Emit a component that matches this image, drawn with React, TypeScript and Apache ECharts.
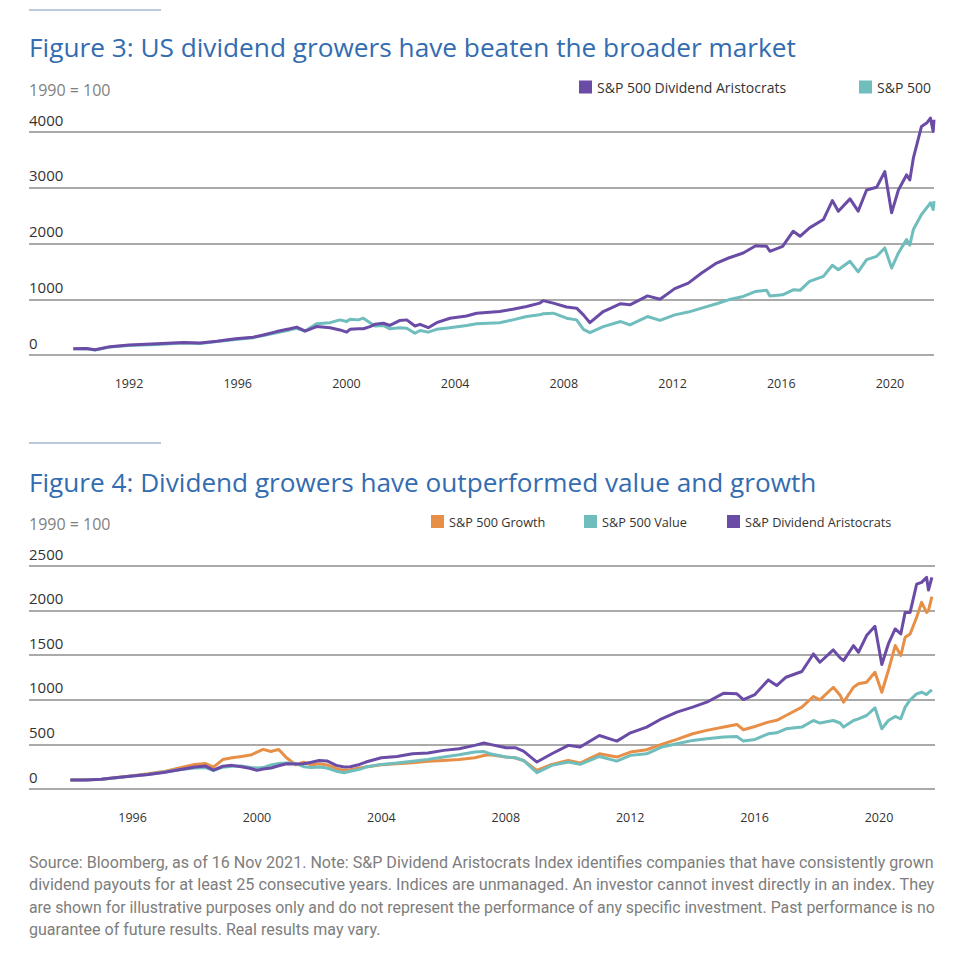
import React, { useEffect, useRef } from "react";
import * as echarts from "echarts";

// ---------- Figure 3 data (1990 = 100) ----------
const years1 = [
  1989.95, 1990.44, 1990.75, 1991.3, 1992.0, 1993.02, 1994.0, 1994.61, 1995.23, 1995.92,
  1996.57, 1996.94, 1997.43, 1997.92, 1998.17, 1998.48, 1998.9, 1999.4, 1999.76, 2000.01,
  2000.13, 2000.44, 2000.62, 2000.87, 2001.05, 2001.36, 2001.6, 2001.97, 2002.22, 2002.52,
  2002.71, 2003.01, 2003.32, 2003.81, 2004.42, 2004.79, 2005.63, 2006.12, 2006.63, 2007.11,
  2007.24, 2007.61, 2008.1, 2008.47, 2008.72, 2008.96, 2009.45, 2010.09, 2010.43, 2011.08,
  2011.54, 2012.08, 2012.58, 2013.07, 2013.62, 2014.06, 2014.6, 2015.06, 2015.46, 2015.58,
  2016.05, 2016.44, 2016.69, 2017.04, 2017.55, 2017.88, 2018.1, 2018.53, 2018.83, 2019.14,
  2019.51, 2019.81, 2020.06, 2020.31, 2020.61, 2020.73, 2020.86, 2021.16, 2021.35, 2021.49,
  2021.59, 2021.62,
];
const aristocrats1 = [
  110, 115, 95, 150, 180, 200, 225, 215, 245, 290,
  320, 360, 420, 470, 500, 430, 510, 490, 450, 410,
  460, 470, 470, 510, 550, 570, 530, 620, 630, 520,
  550, 490, 580, 660, 700, 750, 780, 820, 870, 930,
  975, 930, 860, 840, 720, 580, 780, 920, 900, 1060,
  1000, 1190, 1290, 1470, 1650, 1740, 1830, 1960, 1950, 1860,
  1950, 2220, 2130, 2280, 2430, 2770, 2580, 2800, 2580, 2960,
  3010, 3290, 2550, 2960, 3230, 3140, 3530, 4100, 4160, 4250,
  4010, 4220,
];
const sp500_1 = [
  110, 110, 90, 145, 170, 190, 215, 205, 240, 280,
  310, 350, 400, 450, 480, 430, 560, 580, 630, 600,
  640, 630, 660, 580, 520, 530, 470, 490, 480, 390,
  440, 410, 460, 490, 530, 560, 580, 630, 690, 720,
  740, 750, 660, 630, 460, 400, 510, 600, 540, 690,
  620, 720, 770, 840, 920, 990, 1050, 1140, 1160, 1060,
  1080, 1170, 1160, 1320, 1410, 1610, 1530, 1680, 1490, 1710,
  1770, 1920, 1560, 1830, 2070, 1970, 2250, 2520, 2640, 2730,
  2610, 2760,
];
const xTicks1 = [1992, 1996, 2000, 2004, 2008, 2012, 2016, 2020];

// ---------- Figure 4 data (1990 = 100) ----------
const years2 = [
  1994.0, 1994.5, 1995.0, 1995.5, 1996.0, 1996.5, 1997.0, 1997.5, 1998.0, 1998.35,
  1998.6, 1998.9, 1999.2, 1999.5, 1999.8, 2000.0, 2000.2, 2000.45, 2000.7, 2000.95,
  2001.25, 2001.5, 2001.75, 2002.0, 2002.25, 2002.55, 2002.8, 2003.0, 2003.3, 2003.5,
  2004.0, 2004.5, 2005.0, 2005.5, 2006.0, 2006.5, 2007.0, 2007.3, 2007.49, 2008.01,
  2008.3, 2008.57, 2009.0, 2009.48, 2010.01, 2010.39, 2011.01, 2011.57, 2012.01, 2012.53,
  2013.01, 2013.5, 2014.01, 2014.46, 2015.01, 2015.43, 2015.64, 2016.01, 2016.44, 2016.71,
  2017.01, 2017.52, 2017.89, 2018.1, 2018.53, 2018.75, 2018.86, 2019.18, 2019.34, 2019.6,
  2019.87, 2020.09, 2020.3, 2020.52, 2020.7, 2020.84, 2021.0, 2021.21, 2021.37, 2021.53,
  2021.59, 2021.7,
];
const growth2 = [
  100, 105, 110, 130, 150, 170, 195, 235, 275, 285,
  245, 330, 350, 365, 380, 414, 444, 420, 444, 350,
  270, 300, 270, 283, 270, 230, 209, 216, 235, 246,
  272, 283, 295, 310, 320, 332, 350, 375, 384, 358,
  350, 320, 209, 276, 320, 291, 395, 358, 414, 440,
  500, 556, 619, 657, 694, 724, 664, 701, 750, 770,
  824, 918, 1037, 1000, 1141, 1050, 974, 1141, 1179, 1197,
  1309, 1085, 1328, 1608, 1496, 1701, 1738, 1925, 2093, 1980,
  2000, 2156,
];
const value2 = [
  100, 100, 108, 125, 145, 162, 190, 215, 235, 240,
  205, 245, 255, 257, 240, 235, 240, 270, 285, 292,
  285, 250, 240, 246, 235, 200, 183, 198, 220, 246,
  276, 291, 310, 332, 358, 384, 414, 420, 395, 358,
  350, 320, 183, 265, 302, 276, 365, 313, 377, 395,
  470, 507, 545, 563, 582, 589, 537, 556, 619, 630,
  675, 694, 768, 739, 768, 740, 694, 768, 787, 824,
  910, 675, 768, 813, 787, 918, 1000, 1067, 1085, 1059,
  1080, 1112,
];
const aristocrats2 = [
  100, 102, 110, 128, 145, 162, 185, 215, 246, 257,
  212, 255, 265, 250, 230, 209, 225, 235, 260, 283,
  280, 283, 300, 320, 315, 265, 246, 250, 275, 302,
  350, 365, 395, 403, 433, 451, 489, 515, 500, 463,
  463, 425, 302, 395, 489, 470, 600, 537, 630, 694,
  787, 862, 918, 973, 1074, 1067, 1003, 1059, 1223, 1160,
  1253, 1317, 1514, 1421, 1559, 1470, 1440, 1607, 1533, 1720,
  1824, 1395, 1626, 1794, 1738, 1980, 1980, 2297, 2316, 2372,
  2230, 2372,
];
const xTicks2 = [1996, 2000, 2004, 2008, 2012, 2016, 2020];

// ---------- texts ----------
const title1 = "Figure 3: US dividend growers have beaten the broader market";
const title2 = "Figure 4: Dividend growers have outperformed value and growth";
const baseNote = "1990 = 100";
const legend1 = ["S&P 500 Dividend Aristocrats", "S&P 500"];
const legend2 = ["S&P 500 Growth", "S&P 500 Value", "S&P Dividend Aristocrats"];
const sourceLines = [
  "Source: Bloomberg, as of 16 Nov 2021. Note: S&P Dividend Aristocrats Index identifies companies that have consistently grown",
  "dividend payouts for at least 25 consecutive years. Indices are unmanaged. An investor cannot invest directly in an index. They",
  "are shown for illustrative purposes only and do not represent the performance of any specific investment. Past performance is no",
  "guarantee of future results. Real results may vary.",
];

const PURPLE = "#6a4ba6";
const TEAL = "#6fbdbc";
const ORANGE = "#e78f47";
const BLUE = "#336cb0";
const GRID = "#8e8e8e";
const FONT = "Open Sans";

function pairs(xs: number[], ys: number[]) {
  return xs.map((x, i) => [x, ys[i]]);
}

function measure(text: string, font: string): number {
  const c = document.createElement("canvas").getContext("2d");
  if (!c) return text.length * 7;
  c.font = font;
  return c.measureText(text).width;
}

export default function App() {
  const ref = useRef<HTMLDivElement>(null);

  useEffect(() => {
    if (!ref.current) return;
    const chart = echarts.init(ref.current, undefined, { renderer: "svg" });

    const t1w = measure(title1, `25px "${FONT}"`);
    const t2w = measure(title2, `25px "${FONT}"`);
    const t1fs = (25 * 767) / t1w;
    const t2fs = (25 * 788) / t2w;
    const srcFont = `17px Roboto`;
    const srcScales = sourceLines.map((l) => 906 / measure(l, srcFont));
    const avgScale = (srcScales[0] + srcScales[1] + srcScales[2]) / 3;

    const legendBase = (fontSize: number) => ({
      icon: "rect",
      itemWidth: 13,
      itemHeight: 13,
      itemGap: 0,
      padding: 0,
      selectedMode: false,
      textStyle: { fontFamily: FONT, fontSize, color: "#333" },
    });

    const yAxisBase = {
      type: "value",
      min: 0,
      axisLine: { show: false },
      axisTick: { show: false },
      splitLine: { lineStyle: { color: GRID, width: 1.5 } },
      axisLabel: {
        inside: true,
        margin: 0,
        align: "left",
        verticalAlign: "bottom",
        padding: [0, 0, 5, 0],
        fontFamily: FONT,
        fontSize: 15,
        color: "#333",
        formatter: (v: number) => String(v),
      },
    };

    const xAxisBase = {
      type: "value",
      axisLine: { show: false },
      axisTick: { show: false },
      splitLine: { show: false },
    };

    const lineSeries = (name: string, color: string, data: number[][], axis: number, z: number) => ({
      type: "line",
      name,
      xAxisIndex: axis,
      yAxisIndex: axis,
      data,
      showSymbol: false,
      symbol: "none",
      clip: false,
      z,
      lineStyle: { color, width: 3, join: "round" },
      itemStyle: { color },
    });

    const option: any = {
      animation: false,
      backgroundColor: "#ffffff",
      grid: [
        { left: 29, right: 37, top: 132, bottom: 605 },
        { left: 29, right: 36, top: 566, bottom: 171 },
      ],
      xAxis: [
        {
          ...xAxisBase,
          gridIndex: 0,
          min: 1988.32,
          max: 2021.62,
          axisLabel: {
            customValues: xTicks1,
            margin: 22,
            fontFamily: FONT,
            fontSize: 12.5,
            color: "#333",
            formatter: (v: number) => String(Math.round(v)),
          },
        },
        {
          ...xAxisBase,
          gridIndex: 1,
          min: 1992.67,
          max: 2021.8,
          axisLabel: {
            customValues: xTicks2,
            margin: 22,
            fontFamily: FONT,
            fontSize: 12.5,
            color: "#333",
            formatter: (v: number) => String(Math.round(v)),
          },
        },
      ],
      yAxis: [
        { ...yAxisBase, gridIndex: 0, max: 4000, interval: 1000 },
        { ...yAxisBase, gridIndex: 1, max: 2500, interval: 500 },
      ],
      legend: [
        { ...legendBase(14), data: [legend1[0]], left: 579, top: 80 },
        { ...legendBase(14), data: [legend1[1]], left: 859, top: 80 },
        { ...legendBase(12.7), data: [legend2[0]], left: 431, top: 515 },
        { ...legendBase(12.7), data: [legend2[1]], left: 584, top: 515 },
        { ...legendBase(12.7), data: [legend2[2]], left: 727, top: 515 },
      ],
      series: [
        lineSeries(legend1[1], TEAL, pairs(years1, sp500_1), 0, 2),
        lineSeries(legend1[0], PURPLE, pairs(years1, aristocrats1), 0, 3),
        lineSeries(legend2[0], ORANGE, pairs(years2, growth2), 1, 2),
        lineSeries(legend2[1], TEAL, pairs(years2, value2), 1, 3),
        lineSeries(legend2[2], PURPLE, pairs(years2, aristocrats2), 1, 4),
      ],
      graphic: [
        { type: "line", shape: { x1: 29, y1: 10, x2: 161, y2: 10 }, style: { stroke: "#a3b8d0", lineWidth: 1.5 } },
        {
          type: "text",
          x: 29,
          y: 47,
          style: { text: title1, fontFamily: FONT, fontSize: t1fs, fill: BLUE, align: "left", verticalAlign: "middle" },
        },
        {
          type: "text",
          x: 29,
          y: 90,
          style: { text: baseNote, fontFamily: FONT, fontSize: 16, fill: "#7f7f7f", align: "left", verticalAlign: "middle" },
        },
        { type: "line", shape: { x1: 29, y1: 443, x2: 161, y2: 443 }, style: { stroke: "#a3b8d0", lineWidth: 1.5 } },
        {
          type: "text",
          x: 29,
          y: 481.5,
          style: { text: title2, fontFamily: FONT, fontSize: t2fs, fill: BLUE, align: "left", verticalAlign: "middle" },
        },
        {
          type: "text",
          x: 29,
          y: 524,
          style: { text: baseNote, fontFamily: FONT, fontSize: 16, fill: "#7f7f7f", align: "left", verticalAlign: "middle" },
        },
        ...sourceLines.map((line, i) => ({
          type: "text",
          x: 29,
          y: 862 + i * 22.5,
          scaleX: i < 3 ? srcScales[i] : avgScale,
          style: { text: line, fontFamily: "Roboto", fontSize: 17, fill: "#7d7d7d", align: "left", verticalAlign: "middle" },
        })),
      ],
    };

    chart.setOption(option);
    return () => chart.dispose();
  }, []);

  return (
    <div
      ref={ref}
      style={{ position: "absolute", left: 0, top: 0, width: 971, height: 960, background: "#fff" }}
    />
  );
}
